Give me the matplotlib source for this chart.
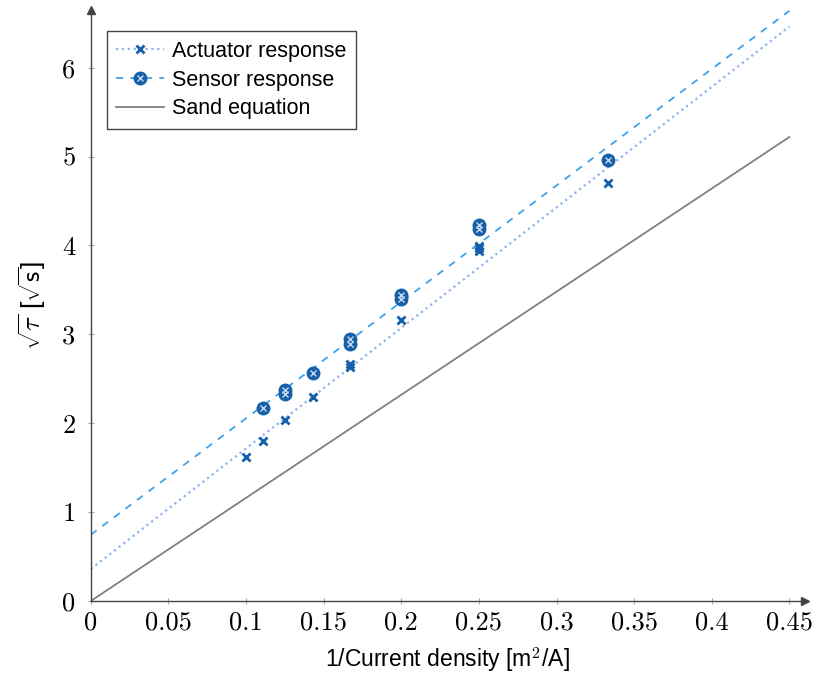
import numpy as np
import matplotlib.pyplot as plt

plt.rcParams['mathtext.fontset'] = 'cm'
plt.rcParams['font.family'] = ['Liberation Sans', 'DejaVu Sans']

# 1/current density [m^2/A]
act_x = [0.1, 0.1111, 0.125, 0.1429, 0.1667, 0.1667, 0.2, 0.25, 0.25, 0.25, 0.3333]
act_y = [1.62, 1.80, 2.04, 2.29, 2.67, 2.63, 3.16, 3.94, 3.97, 3.99, 4.70]

sen_x = [0.1111, 0.125, 0.125, 0.1429, 0.1667, 0.1667, 0.2, 0.2, 0.25, 0.25, 0.3333]
sen_y = [2.17, 2.33, 2.37, 2.57, 2.89, 2.95, 3.40, 3.44, 4.18, 4.23, 4.96]

# linear fits (intercept, slope) and Sand equation slope
act_fit = (0.36, 13.56)
sen_fit = (0.745, 13.1)
sand_slope = 11.6

xticks = [0, 0.05, 0.1, 0.15, 0.2, 0.25, 0.3, 0.35, 0.4, 0.45]
xtick_labels = ['0', '0.05', '0.1', '0.15', '0.2', '0.25', '0.3', '0.35', '0.4', '0.45']
yticks = [0, 1, 2, 3, 4, 5, 6]

dark = '#1560a8'
light_dash = '#3da2ec'
light_dot = '#8ab4ee'
gray = '#808080'

fig = plt.figure(figsize=(8.18, 6.81), dpi=100)
ax = fig.add_axes([0.111, 0.1175, 0.873, 0.868])

xl = np.linspace(0, 0.45, 50)
ax.plot(xl, act_fit[0] + act_fit[1] * xl, ':', color=light_dot, lw=1.6, zorder=2)
ax.plot(xl, sen_fit[0] + sen_fit[1] * xl, '--', color=light_dash, lw=1.3, dashes=(4, 4), zorder=2)
ax.plot(xl, sand_slope * xl, '-', color=gray, lw=1.3, zorder=2)

ax.plot(act_x, act_y, 'x', color=dark, ms=6, mew=2, zorder=3)
ax.plot(sen_x, sen_y, 'o', color=dark, ms=9, zorder=3)
ax.plot(sen_x, sen_y, 'x', color='#c8d8ee', ms=4.5, mew=1, zorder=4)

# legend handles
h_act, = ax.plot([], [], ':', color=light_dot, lw=1.6, marker='x', ms=6, mew=2, mec=dark)
h_sen_o, = ax.plot([], [], '--', color=light_dash, lw=1.3, dashes=(4, 4), marker='o', ms=9, mfc=dark, mec=dark)
h_sen_x, = ax.plot([], [], 'x', color='#c8d8ee', ms=4.5, mew=1)
h_sand, = ax.plot([], [], '-', color=gray, lw=1.3)
leg = ax.legend([h_act, (h_sen_o, h_sen_x), h_sand],
                ['Actuator response', 'Sensor response', 'Sand equation'],
                loc='upper left', bbox_to_anchor=(0.007, 0.982), fontsize=15.5,
                fancybox=False, framealpha=1, edgecolor='#444444',
                handlelength=2.2, handletextpad=0.4, borderpad=0.45, labelspacing=0.35)
leg.get_frame().set_linewidth(1.0)

ax.set_xlim(0, 0.46)
ax.set_ylim(0, 6.65)
ax.set_xticks(xticks)
ax.set_xticklabels(xtick_labels)
ax.set_yticks(yticks)
for lab in ax.get_xticklabels() + ax.get_yticklabels():
    lab.set_fontfamily('cmr10')
    lab.set_fontsize(19)
ax.tick_params(direction='inout', length=4, color='#aaaaaa', pad=5)
ax.tick_params(axis='y', pad=9)

for s in ['top', 'right']:
    ax.spines[s].set_visible(False)
for s in ['left', 'bottom']:
    ax.spines[s].set_color('#444444')
    ax.spines[s].set_linewidth(1.0)
ax.plot(1, 0, '>', color='#444444', ms=6, transform=ax.get_yaxis_transform(), clip_on=False)
ax.plot(0, 1, '^', color='#444444', ms=6, transform=ax.get_xaxis_transform(), clip_on=False)

ax.set_xlabel('1/Current density [m$^2$/A]', fontsize=16.5, labelpad=8)
ax.set_ylabel(r'$\sqrt{\tau}$ [$\sqrt{\mathsf{s}}$]', fontsize=19, labelpad=10)

fig.savefig('out.png', dpi=100)
